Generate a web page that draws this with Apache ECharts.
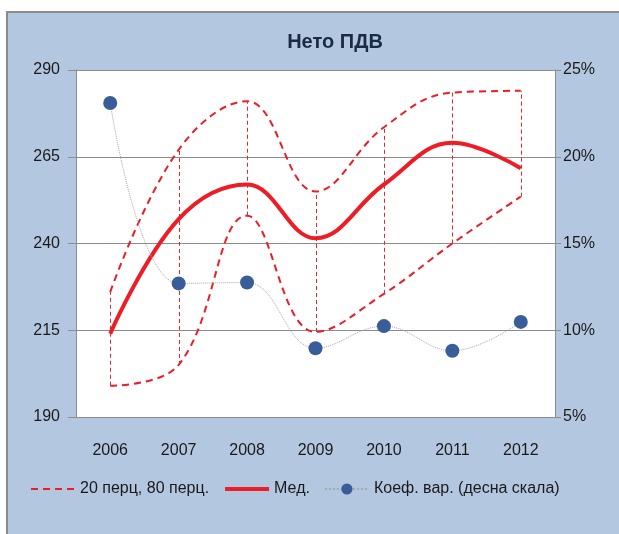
<!DOCTYPE html>
<html>
<head>
<meta charset="utf-8">
<script src="https://cdn.jsdelivr.net/npm/echarts@6/dist/echarts.min.js"></script>
<style>
  html, body { margin: 0; padding: 0; background: #fff; }
  #main { width: 619px; height: 534px; }
</style>
</head>
<body>
<div id="main"></div>
<script>
// categories and values
const years = ['2006', '2007', '2008', '2009', '2010', '2011', '2012'];
const p80 = [226, 267, 281, 255, 273.5, 283.5, 284];
const p20 = [199, 205, 248, 214.5, 225.5, 240, 253.5];
const median = [214, 247, 257, 241.5, 257, 269, 261.7];
const coefVar = [23.1, 12.7, 12.75, 8.96, 10.24, 8.82, 10.48];

const leftTicks = [190, 215, 240, 265, 290];
const rightTicks = [5, 10, 15, 20, 25];

const font = 'Liberation Sans, Arial, sans-serif';
const red = '#ee1c25';

const chart = echarts.init(document.getElementById('main'));

// high-low lines between 20 and 80 percentile
const hiLo = years.map((y, i) => [i, p20[i], p80[i]]);

const option = {
  animation: false,
  backgroundColor: '#fff',
  graphic: [{
    type: 'rect',
    z: -10,
    shape: { x: 7, y: 12, width: 640, height: 560 },
    style: { fill: '#b3c7e1', stroke: '#8a8a8a', lineWidth: 2 }
  }],
  title: {
    text: 'Нето ПДВ',
    left: 330,
    top: 27,
    textAlign: 'center',
    textStyle: { fontFamily: font, fontSize: 20, fontWeight: 'bold', color: '#1b2a45' }
  },
  grid: {
    left: 76, right: 64, top: 70, bottom: 117,
    show: true, backgroundColor: '#fff', borderWidth: 0
  },
  legend: {
    left: 25,
    top: 476,
    itemWidth: 44,
    itemHeight: 14,
    itemGap: 14,
    textStyle: { fontFamily: font, fontSize: 16, color: '#1a1a1a' },
    data: [
      { name: '20 перц, 80 перц.', itemStyle: { opacity: 0 } },
      { name: 'Мед.', itemStyle: { opacity: 0 }, lineStyle: { width: 4 } },
      { name: 'Коеф. вар. (десна скала)' }
    ]
  },
  xAxis: {
    type: 'category',
    data: years,
    boundaryGap: true,
    axisLine: { lineStyle: { color: '#8c8c8c', width: 1 } },
    axisTick: { show: false },
    axisLabel: { fontFamily: font, fontSize: 16, color: '#1a1a1a', margin: 26 }
  },
  yAxis: [{
    type: 'value',
    min: leftTicks[0],
    max: leftTicks[leftTicks.length - 1],
    interval: 25,
    axisLine: { show: true, lineStyle: { color: '#8c8c8c' } },
    axisTick: { show: true, length: 8, lineStyle: { color: '#8c8c8c' } },
    axisLabel: { fontFamily: font, fontSize: 16, color: '#1a1a1a', margin: 16 },
    splitLine: { lineStyle: { color: '#8c8c8c', width: 1 } }
  }, {
    type: 'value',
    min: rightTicks[0],
    max: rightTicks[rightTicks.length - 1],
    interval: 5,
    axisLine: { show: true, lineStyle: { color: '#8c8c8c' } },
    axisTick: { show: true, length: 6, lineStyle: { color: '#8c8c8c' } },
    axisLabel: { fontFamily: font, fontSize: 16, color: '#1a1a1a', margin: 8, formatter: '{value}%' },
    splitLine: { show: false }
  }],
  series: [
    {
      name: 'hilo',
      type: 'custom',
      z: 1,
      data: hiLo,
      itemStyle: { color: red },
      renderItem: (params, api) => {
        const a = api.coord([api.value(0), api.value(1)]);
        const b = api.coord([api.value(0), api.value(2)]);
        const x = Math.round(a[0]) + 0.5;
        return {
          type: 'line',
          shape: { x1: x, y1: a[1], x2: x, y2: b[1] },
          style: { stroke: '#e0262e', fill: null, lineWidth: 1, lineDash: [4, 3] }
        };
      }
    },
    {
      name: '20 перц, 80 перц.',
      type: 'line',
      data: p80,
      smooth: 0.4,
      symbol: 'none',
      itemStyle: { color: red },
      lineStyle: { color: red, width: 2, type: [7, 5] }
    },
    {
      name: '20 перц, 80 перц.',
      type: 'line',
      data: p20,
      smooth: 0.4,
      symbol: 'none',
      itemStyle: { color: red },
      lineStyle: { color: red, width: 2, type: [7, 5] }
    },
    {
      name: 'Мед.',
      type: 'line',
      data: median,
      smooth: 0.4,
      symbol: 'none',
      itemStyle: { color: red },
      lineStyle: { color: red, width: 4 }
    },
    {
      name: 'Коеф. вар. (десна скала)',
      type: 'line',
      yAxisIndex: 1,
      data: coefVar,
      smooth: 0.4,
      symbol: 'circle',
      symbolSize: 14,
      z: 5,
      itemStyle: { color: '#385d99' },
      lineStyle: { color: '#a8a8a8', width: 1, type: 'dotted' }
    }
  ]
};

chart.setOption(option);
</script>
</body>
</html>
